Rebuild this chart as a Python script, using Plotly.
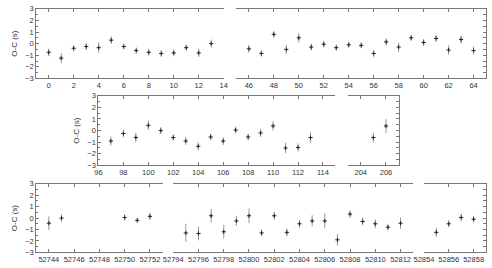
import plotly.graph_objects as go

# ---- data ----
xa = [0, 1, 2, 3, 4, 5, 6, 7, 8, 9, 10, 11, 12, 13]
ya = [-0.75, -1.25, -0.4, -0.25, -0.35, 0.3, -0.25, -0.6, -0.75, -0.85, -0.8, -0.35, -0.8, 0.0]
ea = [0.33, 0.45, 0.27, 0.3, 0.45, 0.33, 0.25, 0.27, 0.3, 0.3, 0.3, 0.25, 0.35, 0.35]

xb = [46, 47, 48, 49, 50, 51, 52, 53, 54, 55, 56, 57, 58, 59, 60, 61, 62, 63, 64]
yb = [-0.45, -0.85, 0.8, -0.5, 0.5, -0.3, -0.05, -0.35, -0.1, -0.15, -0.85, 0.15, -0.3, 0.5, 0.1, 0.45, -0.55, 0.35, -0.6]
eb = [0.35, 0.27, 0.3, 0.4, 0.4, 0.3, 0.3, 0.27, 0.27, 0.25, 0.33, 0.3, 0.4, 0.27, 0.3, 0.3, 0.4, 0.35, 0.35]

xc = [97, 98, 99, 100, 101, 102, 103, 104, 105, 106, 107, 108, 109, 110, 111, 112, 113]
yc = [-0.9, -0.25, -0.6, 0.45, 0.0, -0.6, -0.9, -1.35, -0.55, -0.9, 0.05, -0.55, -0.2, 0.4, -1.5, -1.45, -0.6]
ec = [0.4, 0.33, 0.4, 0.4, 0.3, 0.27, 0.35, 0.35, 0.3, 0.35, 0.3, 0.3, 0.35, 0.4, 0.45, 0.35, 0.45]

xd = [205, 206]
yd = [-0.6, 0.4]
ed = [0.4, 0.6]

xe = [52744, 52745, 52750, 52751, 52752]
ye = [-0.45, 0.0, 0.05, -0.2, 0.15]
ee = [0.6, 0.33, 0.27, 0.2, 0.33]

xf = [52795, 52796, 52797, 52798, 52799, 52800, 52801, 52802, 52803, 52804, 52805, 52806,
      52807, 52808, 52809, 52810, 52811, 52812]
yf = [-1.3, -1.35, 0.2, -1.2, -0.25, 0.2, -1.3, 0.2, -1.25, -0.5, -0.25, -0.25,
      -1.9, 0.35, -0.3, -0.5, -0.8, -0.45]
ef = [0.8, 0.6, 0.6, 0.6, 0.45, 0.65, 0.3, 0.35, 0.35, 0.35, 0.5, 0.65,
      0.5, 0.35, 0.35, 0.4, 0.3, 0.5]

xg = [52855, 52856, 52857, 52858]
yg = [-1.25, -0.5, 0.05, -0.1]
eg = [0.4, 0.3, 0.35, 0.3]

W, H = 492, 268

def dx(a, b):
    return [a / W, b / W]

def dy(top, bot):
    return [1 - bot / H, 1 - top / H]

# panels: (x, y, err, xrange, xdom(px), ydom(px), yside)
panels = [
    (xa, ya, ea, [-1, 14], (27, 220), (5, 77), "left"),
    (xb, yb, eb, [45, 65], (233, 490), (5, 77), "right"),
    (xc, yc, ec, [96, 115], (91, 335), (95, 167), "left"),
    (xd, yd, ed, [203, 207], (348, 400), (95, 167), "right"),
    (xe, ye, ee, [52743, 52753], (27, 157), (186, 257), "left"),
    (xf, yf, ef, [52794, 52813], (168, 415), (186, 257), "none"),
    (xg, yg, eg, [52854, 52859], (426, 490), (186, 257), "right"),
]

LINE = "#777777"
TXT = "#333333"
FONT = dict(family="Liberation Sans, Arial, sans-serif", size=7.5, color=TXT)
TFONT = dict(family="Liberation Sans, Arial, sans-serif", size=8, color=TXT)

fig = go.Figure()
layout = dict(
    width=W, height=H,
    margin=dict(l=0, r=0, t=0, b=0),
    paper_bgcolor="white", plot_bgcolor="white",
    showlegend=False,
    font=FONT,
)

for i, (x, y, e, xr, xdp, ydp, side) in enumerate(panels, start=1):
    xn = "x" if i == 1 else f"x{i}"
    yn = "y" if i == 1 else f"y{i}"
    fig.add_trace(go.Scatter(
        x=x, y=y, mode="markers", xaxis=xn, yaxis=yn,
        marker=dict(symbol="cross-thin", size=3, line=dict(color="#222222", width=1)),
        error_y=dict(type="data", array=e, visible=True, color="#9a9a9a", thickness=1, width=0),
        hoverinfo="skip",
    ))
    xk = "xaxis" if i == 1 else f"xaxis{i}"
    yk = "yaxis" if i == 1 else f"yaxis{i}"
    layout[xk] = dict(
        domain=dx(*xdp), range=xr, anchor=yn,
        showline=True, linecolor=LINE, linewidth=1, mirror="ticks",
        ticks="inside", ticklen=3, tickcolor=LINE, dtick=2,
        tickformat="d", tickangle=0,
        showgrid=False, zeroline=False, tickfont=FONT,
    )
    ya_cfg = dict(
        domain=dy(*ydp), range=[-3, 3], anchor=xn,
        showgrid=False, zeroline=False, tickfont=FONT,
    )
    if side == "left":
        ya_cfg.update(side="left", showline=True, linecolor=LINE, linewidth=1,
                      ticks="inside", ticklen=3, tickcolor=LINE, dtick=1,
                      showticklabels=True,
                      title=dict(text="O-C (s)", font=TFONT, standoff=6),
                      minor=dict(ticks="inside", ticklen=2, tickcolor=LINE, dtick=0.5))
    elif side == "right":
        ya_cfg.update(side="right", showline=True, linecolor=LINE, linewidth=1,
                      ticks="inside", ticklen=3, tickcolor=LINE, dtick=0.5,
                      showticklabels=False)
    else:
        ya_cfg.update(showline=False, showticklabels=False, ticks="")
    layout[yk] = ya_cfg

fig.update_layout(**layout)
fig.write_html("out.html")
